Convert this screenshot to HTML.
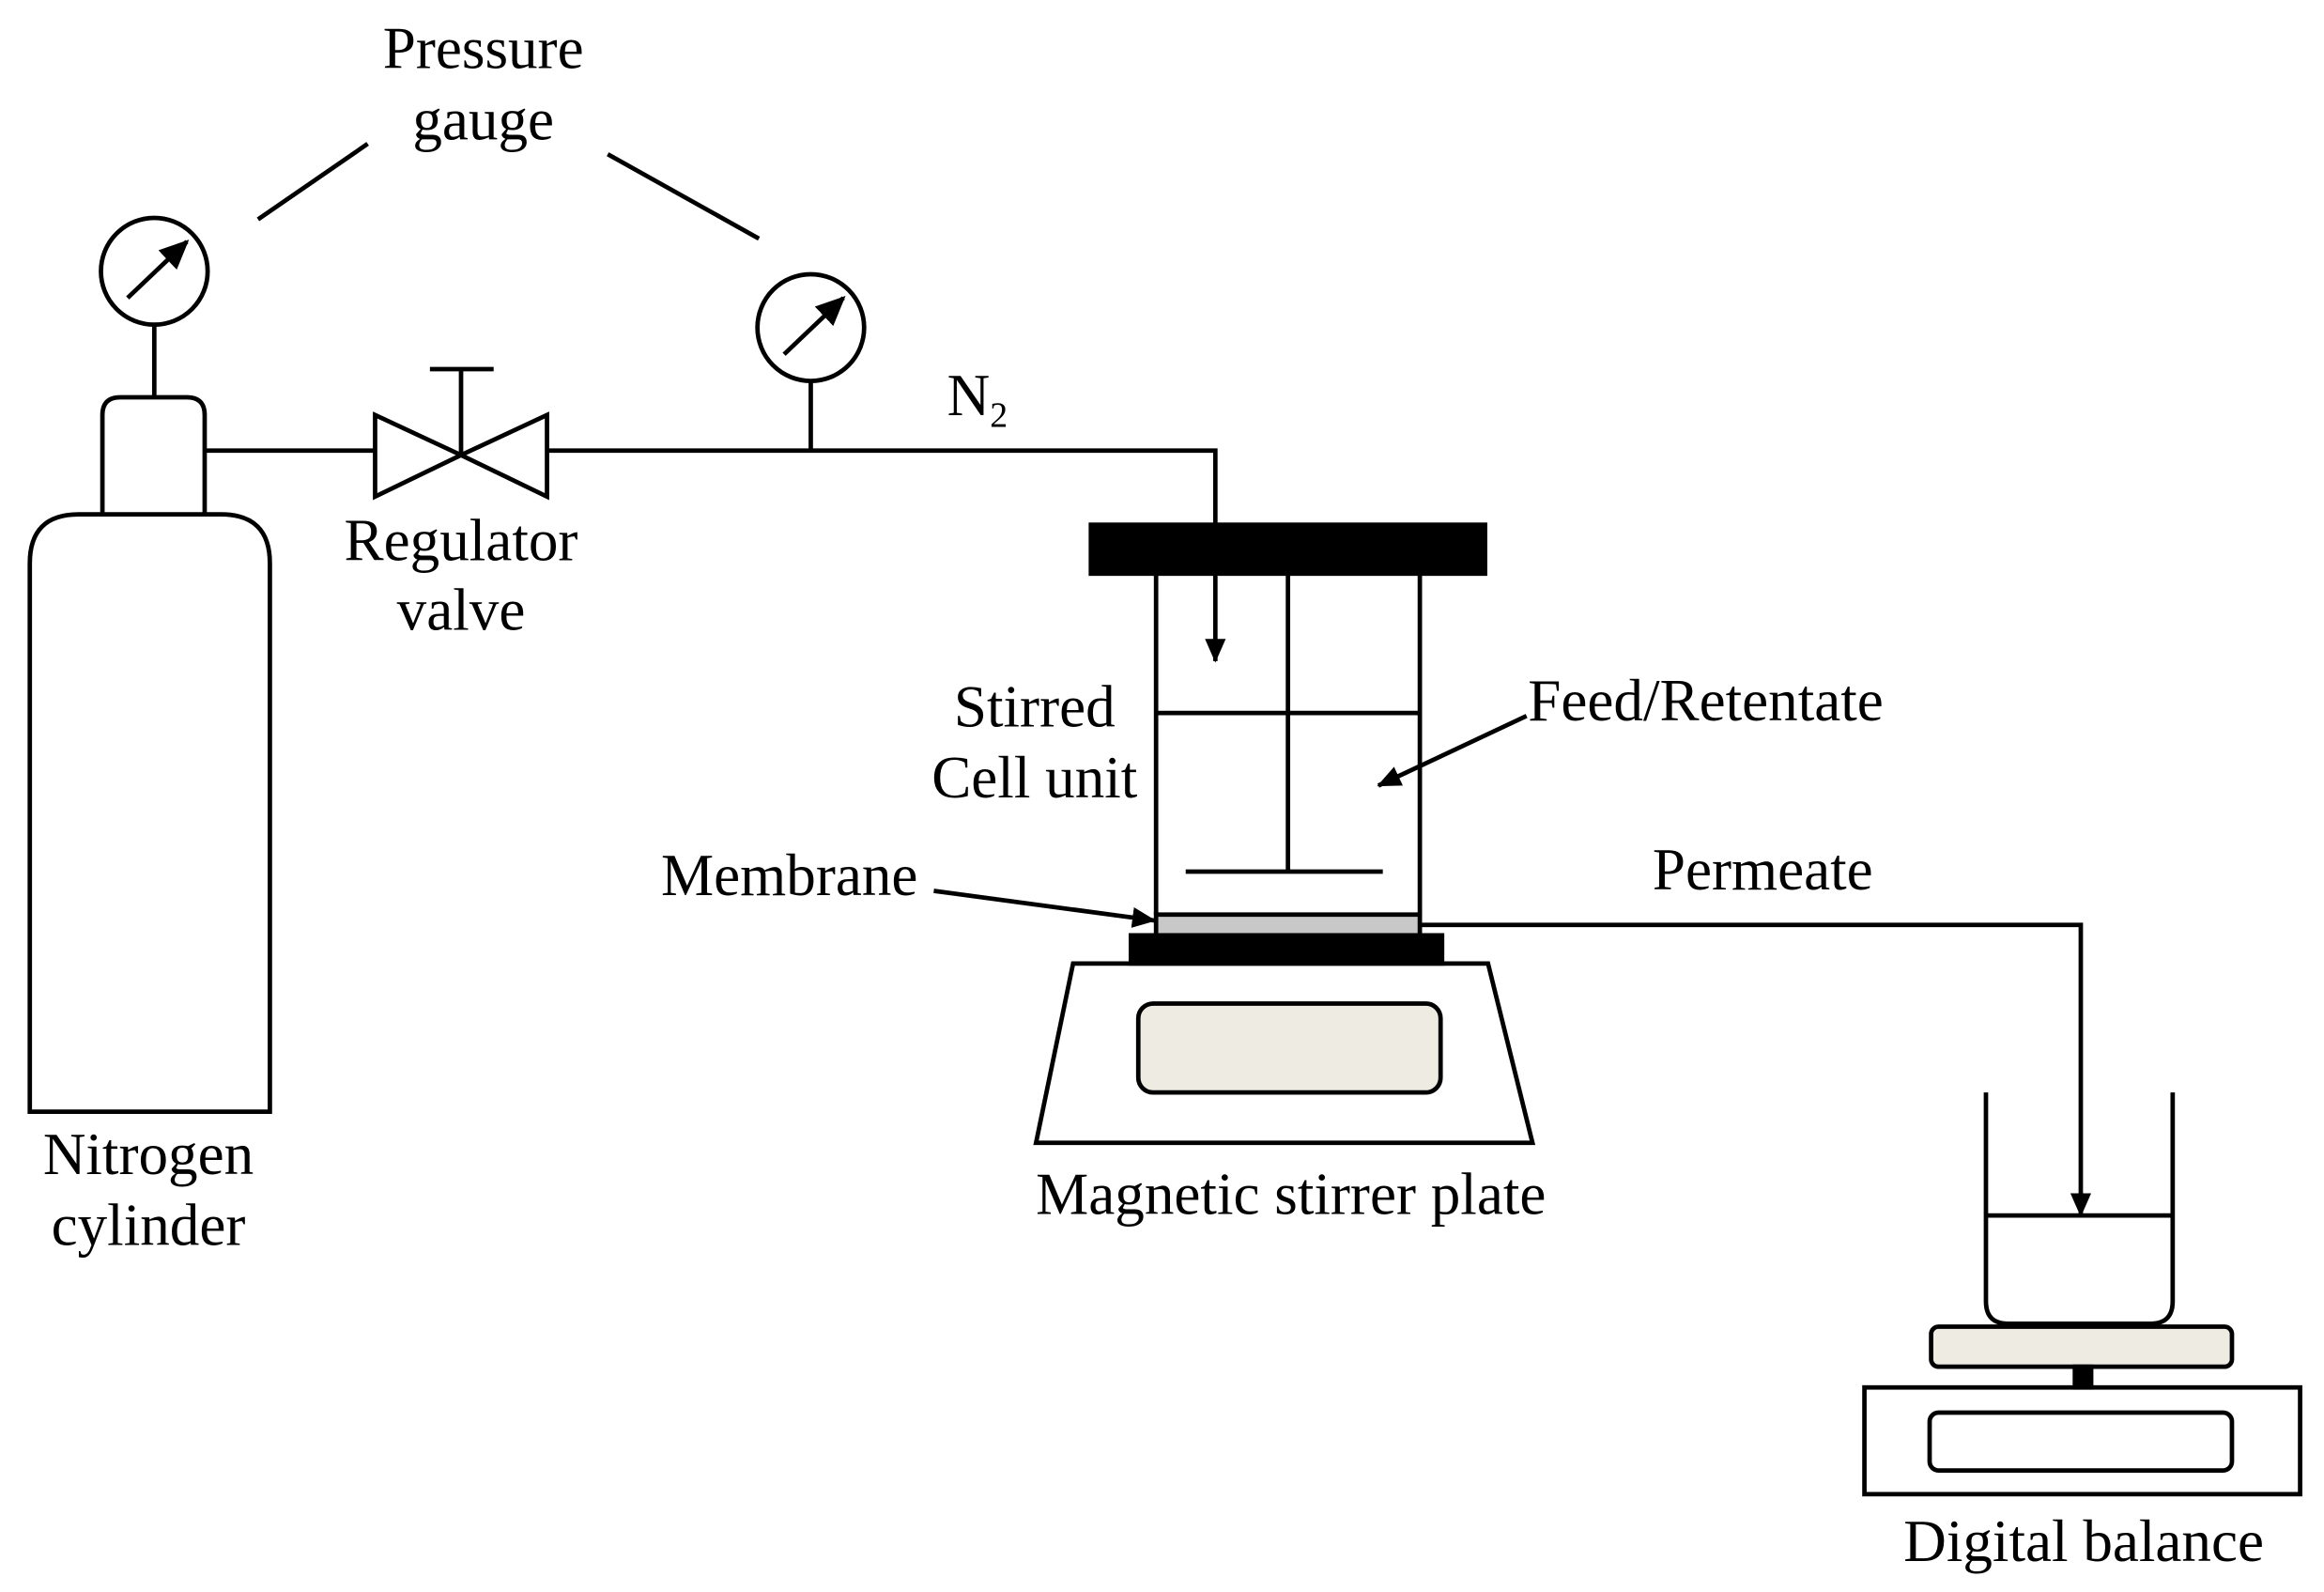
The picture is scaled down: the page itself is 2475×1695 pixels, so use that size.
<!DOCTYPE html>
<html><head><meta charset="utf-8"><style>
html,body{margin:0;padding:0;background:#fff;}
svg{display:block;}
text{font-family:"Liberation Serif",serif;font-size:40px;fill:#000;}
</style></head><body>
<svg width="2475" height="1695" viewBox="0 0 1568 1074" xmlns="http://www.w3.org/2000/svg">
<defs><marker id="ah" markerWidth="16" markerHeight="14" refX="15" refY="7" orient="auto" markerUnits="userSpaceOnUse" viewBox="0 0 16 14"><path d="M0,0 L16,7 L0,14 z" fill="#000"/></marker>
<marker id="ah2" markerWidth="20" markerHeight="18" refX="18" refY="9" orient="auto" markerUnits="userSpaceOnUse" viewBox="0 0 20 18"><path d="M0,0 L20,9 L0,18 z" fill="#000"/></marker></defs>
<g stroke="#000" stroke-width="3" fill="none">
<path d="M20,750 L20,380 Q20,347 53,347 L149,347 Q182,347 182,380 L182,750 Z"/>
<path d="M69,347 L69,280 Q69,268 81,268 L126,268 Q138,268 138,280 L138,347"/>
<circle cx="104" cy="183" r="36"/>
<line x1="104" y1="219" x2="104" y2="268"/>
<line x1="86" y1="201" x2="126" y2="163" marker-end="url(#ah2)"/>
<line x1="138" y1="304" x2="253" y2="304"/>
<path d="M253,280 L253,335 L311,307 Z M369,280 L369,335 L311,307 Z"/>
<line x1="311" y1="307" x2="311" y2="249"/><line x1="290" y1="249" x2="333" y2="249"/>
<polyline points="369,304 820,304 820,355"/>
<circle cx="547" cy="221" r="36"/>
<line x1="547" y1="257" x2="547" y2="304"/>
<line x1="529" y1="239" x2="569" y2="201" marker-end="url(#ah2)"/>
<line x1="174" y1="148" x2="248" y2="97"/>
<line x1="410" y1="104" x2="512" y2="161"/>
<rect x="736" y="354" width="266" height="33" fill="#000"/>
<line x1="780" y1="387" x2="780" y2="617"/><line x1="958" y1="387" x2="958" y2="617"/>
<line x1="869" y1="387" x2="869" y2="588"/>
<line x1="780" y1="481" x2="958" y2="481"/>
<line x1="800" y1="588" x2="933" y2="588"/>
<line x1="820" y1="387" x2="820" y2="446" marker-end="url(#ah)"/>
<rect x="780" y="617" width="178" height="14" fill="#c8c8c8"/>
<rect x="763" y="631" width="210" height="19" fill="#000"/>
<path d="M724,650 L1004,650 L1034,771 L699,771 Z"/>
<rect x="768" y="677" width="204" height="60" rx="10" fill="#eeebe3"/>
<polyline points="958,624 1404,624 1404,820" marker-end="url(#ah)"/>
<line x1="1030" y1="483" x2="930" y2="530" marker-end="url(#ah)"/>
<line x1="630" y1="601" x2="779" y2="621" marker-end="url(#ah)"/>
<path d="M1340,737 L1340,878 Q1340,893 1355,893 L1451,893 Q1466,893 1466,878 L1466,737"/>
<line x1="1340" y1="820" x2="1466" y2="820"/>
<rect x="1303" y="895" width="203" height="27" rx="5" fill="#eeebe3"/>
<rect x="1400" y="922" width="11" height="14" fill="#000"/>
<rect x="1258" y="936" width="294" height="72"/>
<rect x="1302" y="953" width="204" height="39" rx="6"/>
</g>
<g text-anchor="middle">
<text x="326" y="46">Pressure</text><text x="326" y="94">gauge</text>
<text x="311" y="378">Regulator</text><text x="311" y="425">valve</text>
<text x="100" y="792">Nitrogen</text><text x="100" y="840">cylinder</text>
<text x="698" y="490">Stirred</text><text x="698" y="538">Cell unit</text>
<text x="871" y="819">Magnetic stirrer plate</text>
<text x="1406" y="1053">Digital balance</text>
</g>
<text x="446" y="604">Membrane</text>
<text x="1031" y="486">Feed/Retentate</text>
<text x="1115" y="600">Permeate</text>
<text x="639" y="280">N<tspan font-size="24" dy="8">2</tspan></text>
</svg>
</body></html>
